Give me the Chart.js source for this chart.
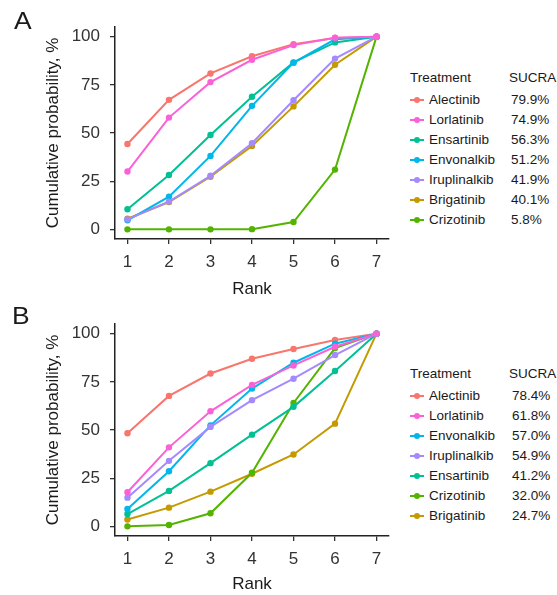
<!DOCTYPE html>
<html>
<head>
<meta charset="utf-8">
<script src="https://cdn.jsdelivr.net/npm/chart.js@4.4.0/dist/chart.umd.min.js"></script>
<style>
  body { margin: 0; background: #fff; }
  #wrap {
    position: relative;
    width: 557px;
    height: 595px;
    overflow: hidden;
    font-family: "Liberation Sans", Arial, sans-serif;
  }
  canvas { position: absolute; left: 0; }
  .panel-label {
    position: absolute;
    color: #1a1a1a;
    font-size: 23px;
    line-height: 23px;
    transform: scaleX(1.15);
    transform-origin: left top;
  }
  .leg { position: absolute; font-size: 13.5px; color: #1a1a1a; line-height: 20px; white-space: nowrap; }
  .key-line { position: absolute; width: 14px; height: 2px; }
  .key-dot { position: absolute; width: 6px; height: 6px; border-radius: 50%; }
</style>
</head>
<body>
<div id="wrap">
  <canvas id="chart-a" width="400" height="300" style="top:0px"></canvas>
  <canvas id="chart-b" width="400" height="298" style="top:297px"></canvas>
  <div class="panel-label" style="left:14px; top:10px">A</div>
  <div class="panel-label" style="left:12px; top:305px">B</div>
</div>
<script>
const ranks = [1, 2, 3, 4, 5, 6, 7];
const yTicks = [0, 25, 50, 75, 100];

// panel A
const treatmentsA = ["Alectinib", "Lorlatinib", "Ensartinib", "Envonalkib", "Iruplinalkib", "Brigatinib", "Crizotinib"];
const sucraA = ["79.9%", "74.9%", "56.3%", "51.2%", "41.9%", "40.1%", "5.8%"];
const alectinibA = [44.3, 67.2, 80.9, 89.8, 96.1, 99.3, 100];
const lorlatinibA = [30, 58, 76.4, 88, 95.6, 99.4, 100];
const ensartinibA = [10.4, 28.2, 49, 68.8, 86.6, 97, 100];
const envonalkibA = [4.7, 17, 38.1, 64.1, 86.5, 98.6, 100];
const iruplinalkibA = [5.2, 14.4, 27.8, 44.7, 67, 88.6, 100];
const brigatinibA = [5.5, 14.2, 27.3, 43.3, 63.8, 85.4, 100];
const crizotinibA = [0, 0, 0, 0.1, 3.8, 31, 100];

// panel B
const treatmentsB = ["Alectinib", "Lorlatinib", "Envonalkib", "Iruplinalkib", "Ensartinib", "Crizotinib", "Brigatinib"];
const sucraB = ["78.4%", "61.8%", "57.0%", "54.9%", "41.2%", "32.0%", "24.7%"];
const alectinibB = [48.3, 67.7, 79.3, 87, 92, 96.7, 100];
const lorlatinibB = [17.7, 41, 59.7, 73.4, 83.5, 93.2, 100];
const envonalkibB = [9, 28.6, 52.4, 71.5, 84.9, 94.8, 100];
const iruplinalkibB = [14.9, 34, 51.6, 65.5, 76.6, 88.9, 100];
const ensartinibB = [6.4, 18.4, 32.8, 47.6, 62, 80.6, 100];
const crizotinibB = [0, 0.7, 6.8, 27.8, 64, 92.5, 100];
const brigatinibB = [3.6, 9.7, 18, 27.3, 37.3, 53.3, 100];

const colors = {
  Alectinib: "#F8766D",
  Brigatinib: "#C49A00",
  Crizotinib: "#53B400",
  Ensartinib: "#00C094",
  Envonalkib: "#00B6EB",
  Iruplinalkib: "#A58AFF",
  Lorlatinib: "#FB61D7",
};

// ggplot draws groups alphabetically, so Lorlatinib ends up on top
const drawOrder = ["Lorlatinib", "Iruplinalkib", "Envonalkib", "Ensartinib", "Crizotinib", "Brigatinib", "Alectinib"];

const seriesA = {
  Alectinib: alectinibA, Lorlatinib: lorlatinibA, Ensartinib: ensartinibA, Envonalkib: envonalkibA,
  Iruplinalkib: iruplinalkibA, Brigatinib: brigatinibA, Crizotinib: crizotinibA,
};
const seriesB = {
  Alectinib: alectinibB, Lorlatinib: lorlatinibB, Envonalkib: envonalkibB, Iruplinalkib: iruplinalkibB,
  Ensartinib: ensartinibB, Crizotinib: crizotinibB, Brigatinib: brigatinibB,
};

const tickFont = { family: "'Liberation Sans', Arial, sans-serif", size: 17 };

function makeChart(canvasId, names, series, xAxisHeight) {
  const datasets = names.map((name) => ({
    label: name,
    data: ranks.map((r, i) => ({ x: r, y: series[name][i] })),
    borderColor: colors[name],
    backgroundColor: colors[name],
    borderWidth: 2,
    pointRadius: 3.2,
    pointBorderWidth: 0,
    pointHoverRadius: 3.2,
    order: drawOrder.indexOf(name),
    clip: false,
  }));

  return new Chart(document.getElementById(canvasId), {
    type: "line",
    data: { datasets },
    options: {
      responsive: false,
      animation: false,
      layout: { padding: { top: 27, right: 11, bottom: 0, left: 0 } },
      plugins: { legend: { display: false }, tooltip: { enabled: false } },
      scales: {
        x: {
          type: "linear",
          min: 0.7,
          max: 7.3,
          afterBuildTicks: (s) => {
            s.ticks = ranks.map((v) => ({ value: v }));
          },
          afterFit: (s) => {
            s.height = xAxisHeight;
          },
          grid: { drawOnChartArea: false, drawTicks: true, tickLength: 5, color: "#333", lineWidth: 1.3 },
          border: { display: true, color: "#222", width: 1.5 },
          ticks: { padding: 8, color: "#333", font: tickFont, maxRotation: 0, callback: (v) => String(v) },
          title: { display: true, text: "Rank", color: "#1a1a1a", font: tickFont, padding: { top: 0, bottom: 0 } },
        },
        y: {
          min: -5,
          max: 105,
          afterBuildTicks: (s) => {
            s.ticks = yTicks.map((v) => ({ value: v }));
          },
          afterFit: (s) => {
            s.width = 115;
          },
          grid: { drawOnChartArea: false, drawTicks: true, tickLength: 5, color: "#333", lineWidth: 1.3 },
          border: { display: true, color: "#222", width: 1.5 },
          ticks: { padding: 10, color: "#333", font: tickFont, callback: (v) => String(v) },
          title: {
            display: true,
            text: "Cumulative probability, %",
            color: "#1a1a1a",
            font: tickFont,
            padding: { top: 43, bottom: 0 },
          },
        },
      },
    },
  });
}

function addText(x, yCenter, text) {
  const el = document.createElement("div");
  el.className = "leg";
  el.style.left = x + "px";
  el.style.top = yCenter - 10 + "px";
  el.textContent = text;
  document.getElementById("wrap").appendChild(el);
}

function addKey(yCenter, color) {
  const wrap = document.getElementById("wrap");
  const line = document.createElement("div");
  line.className = "key-line";
  line.style.left = "410px";
  line.style.top = yCenter - 1 + "px";
  line.style.background = color;
  wrap.appendChild(line);
  const dot = document.createElement("div");
  dot.className = "key-dot";
  dot.style.left = "414px";
  dot.style.top = yCenter - 3 + "px";
  dot.style.background = color;
  wrap.appendChild(dot);
}

function addLegend(titleY, firstRowY, names, sucra, sucraX) {
  addText(410, titleY, "Treatment");
  addText(509, titleY, "SUCRA");
  names.forEach((name, i) => {
    const y = firstRowY + i * 20;
    addKey(y, colors[name]);
    addText(429, y, name);
    addText(sucraX, y, sucra[i]);
  });
}

makeChart("chart-a", treatmentsA, seriesA, 61);
makeChart("chart-b", treatmentsB, seriesB, 59);

addLegend(78, 100, treatmentsA, sucraA, 511);
addLegend(374, 396, treatmentsB, sucraB, 512);
</script>
</body>
</html>
